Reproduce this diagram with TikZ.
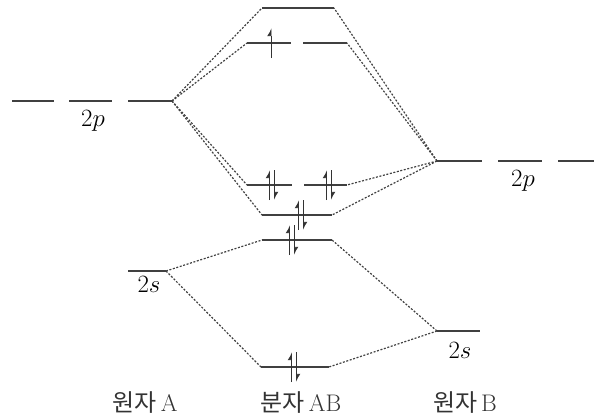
\documentclass[tikz,border=0pt]{standalone}
\usepackage{fontspec}
\newfontfamily\kr{Noto Sans CJK KR}
\usetikzlibrary{arrows.meta}

\begin{document}
\begin{tikzpicture}[
  x=1pt, y=-1pt,
  font=\fontsize{23}{26}\selectfont,
  lvl/.style={line width=1.6pt, black!75},
  corr/.style={dash pattern=on 2pt off 1.6pt, line width=1.2pt, black!75},
  el/.style={line width=0.9pt, black!80, -{Latex[harpoon, length=7pt, width=8pt]}},
  species/.style={font=\fontsize{24}{27}\selectfont, text=black!80}
]
\useasboundingbox (0,0) rectangle (594,418);
% atom A
\coordinate (a2p) at (172,101);
\draw[lvl] (12,101) -- (54,101) (69,101) -- (112,101) (128,101) -- (a2p);
\coordinate (a2s) at (166,271);
\draw[lvl] (128,271) -- (a2s);
% atom B
\coordinate (b2p) at (437,161);
\draw[lvl] (b2p) -- (482,161) (498,161) -- (542,161) (558,161) -- (594,161);
\coordinate (b2s) at (437,331);
\draw[lvl] (b2s) -- (480,331);
% molecule AB
\coordinate (s4l) at (262,8);   \coordinate (s4r) at (334,8);
\coordinate (p2l) at (247,43);  \coordinate (p2r) at (347,43);
\coordinate (p1l) at (247,185); \coordinate (p1r) at (347,185);
\coordinate (s3l) at (262,215); \coordinate (s3r) at (332,215);
\coordinate (s2l) at (262,240); \coordinate (s2r) at (332,240);
\coordinate (s1l) at (261,367); \coordinate (s1r) at (329,367);
\draw[lvl] (s4l) -- (s4r);
\draw[lvl] (p2l) -- (291,43) (303,43) -- (p2r);
\draw[lvl] (p1l) -- (292,185) (304,185) -- (p1r);
\draw[lvl] (s3l) -- (s3r);
\draw[lvl] (s2l) -- (s2r);
\draw[lvl] (s1l) -- (s1r);
% correlation lines
\foreach \m in {s4l,p2l,p1l,s3l} \draw[corr] (a2p) -- (\m);
\foreach \m in {s4r,p2r,p1r,s3r} \draw[corr] (b2p) -- (\m);
\foreach \m in {s2l,s1l} \draw[corr] (a2s) -- (\m);
\foreach \m in {s2r,s1r} \draw[corr] (b2s) -- (\m);
% electrons
\draw[el] (271,58) -- (271,28);
\foreach \x/\y in {272/185, 329/185, 301/215, 292/240, 294/367} {
  \draw[el] (\x-2.5,\y+15) -- (\x-2.5,\y-15);
  \draw[el] (\x+2.5,\y-15) -- (\x+2.5,\y+15);
}
% labels
\node (la2p) at (93,121) {$2p$};
\node (lb2p) at (523,181) {$2p$};
\node (la2s) at (149,284) {$2s$};
\node (lb2s) at (460,350) {$2s$};
\node[species] (nA)  at (145,403) {{\kr 원자}\,A};
\node[species] (nAB) at (301,403) {{\kr 분자}\,AB};
\node[species] (nB)  at (465,403) {{\kr 원자}\,B};
\end{tikzpicture}
\end{document}
